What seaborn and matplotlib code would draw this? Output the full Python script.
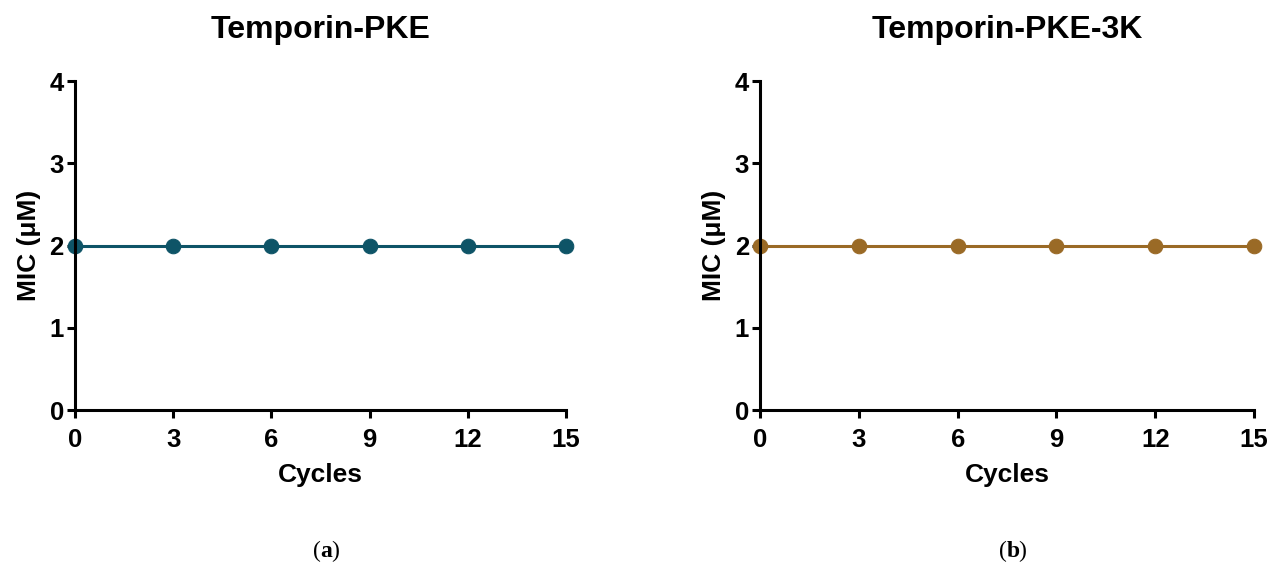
import matplotlib
matplotlib.use("Agg")
import matplotlib.pyplot as plt
import seaborn as sns
import pandas as pd

# data
cycles = [0, 3, 6, 9, 12, 15]
mic_pke = [2, 2, 2, 2, 2, 2]
mic_pke3k = [2, 2, 2, 2, 2, 2]
titles = ["Temporin-PKE", "Temporin-PKE-3K"]
panel_labels = ["a", "b"]
colors = ["#0e5467", "#9a6a26"]

sns.set_theme(style="ticks")
plt.rcParams['font.family'] = ['Liberation Sans', 'DejaVu Sans']
plt.rcParams['text.color'] = 'black'
plt.rcParams['axes.labelcolor'] = 'black'

fig = plt.figure(figsize=(12.68, 5.77), dpi=100)
ax1 = fig.add_axes([0.0591, 0.2894, 0.3873, 0.5702])
ax2 = fig.add_axes([0.5994, 0.2894, 0.3896, 0.5702])

for ax, vals, title, lab, col in zip([ax1, ax2], [mic_pke, mic_pke3k], titles, panel_labels, colors):
    df = pd.DataFrame({"Cycles": cycles, "MIC": vals})
    sns.lineplot(data=df, x="Cycles", y="MIC", ax=ax, color=col, linewidth=2.2,
                 marker="o", markersize=10.5, markeredgecolor=col, clip_on=False)
    ax.set_xlim(0, 15)
    ax.set_ylim(0, 4)
    ax.set_xticks(cycles)
    ax.set_yticks([0, 1, 2, 3, 4])
    sns.despine(ax=ax)
    for s in ["left", "bottom"]:
        ax.spines[s].set_linewidth(2.2)
        ax.spines[s].set_color("black")
    ax.tick_params(width=2.2, length=6, colors="black", labelsize=18.5)
    ax.tick_params(axis="x", pad=7)
    ax.tick_params(axis="y", pad=2)
    for t in ax.get_xticklabels() + ax.get_yticklabels():
        t.set_fontweight("bold")
    ax.set_xlabel("Cycles", fontsize=19, fontweight="bold", labelpad=8, color="black")
    ax.set_ylabel("MIC (\u03bcM)", fontsize=19, fontweight="bold", labelpad=6, color="black")
    ax.set_title(title, fontsize=23, fontweight="bold", pad=31, color="black")
    ax.grid(False)
    # panel letter under each plot
    ax.text(0.5, -0.43, "(", transform=ax.transAxes, ha="right", va="center",
            fontsize=17, family="Liberation Serif")
    ax.text(0.5, -0.43, lab, transform=ax.transAxes, ha="left", va="center",
            fontsize=17, family="Liberation Serif", fontweight="bold")
    ax.text(0.5 + 0.022, -0.43, ")", transform=ax.transAxes, ha="left", va="center",
            fontsize=17, family="Liberation Serif")

fig.savefig("out.png", dpi=100)
